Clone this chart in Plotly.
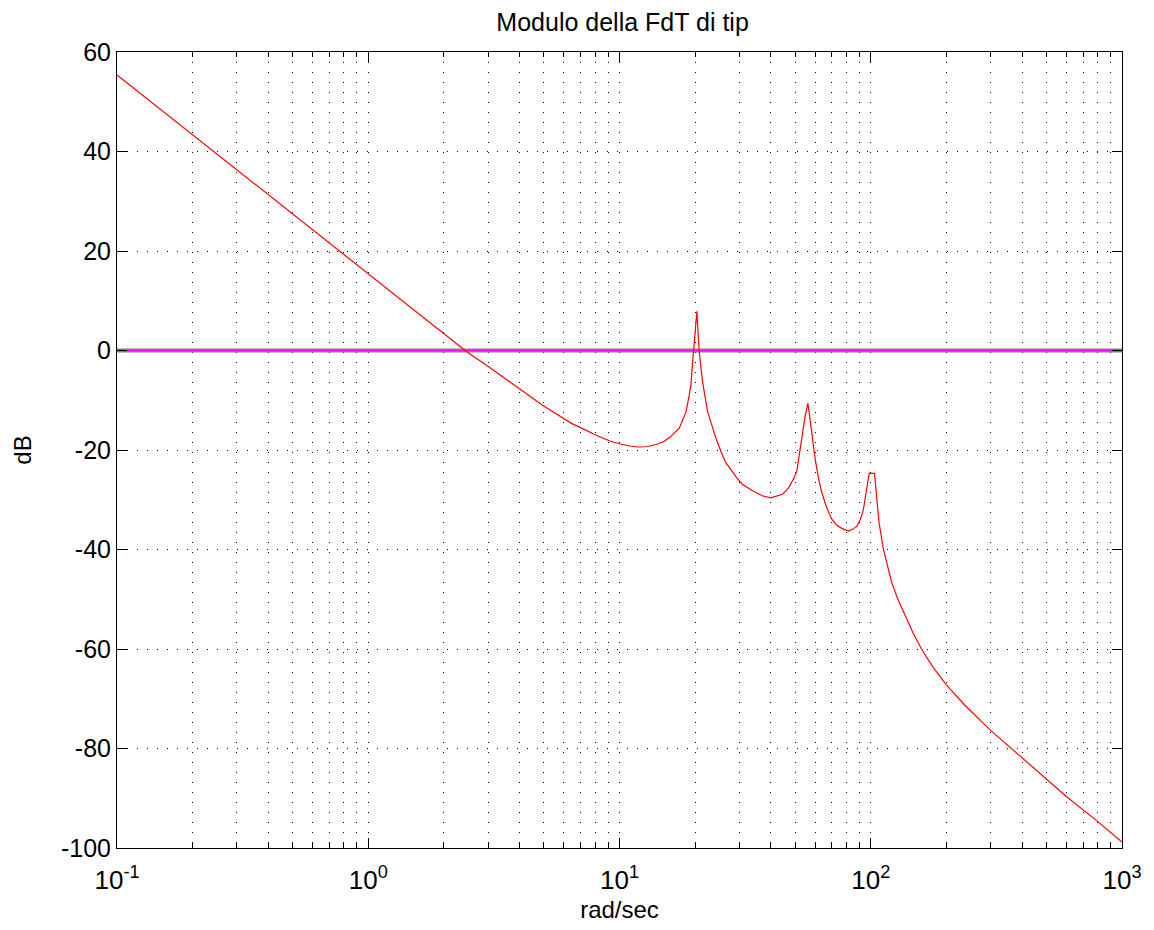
import plotly.graph_objects as go

# Frequency (rad/sec) and magnitude (dB)
freq = [0.1, 1.0, 1.918, 2.458, 2.995, 3.47, 3.978, 4.43, 4.939, 5.47, 5.991,
        6.46, 6.998, 7.64, 8.11, 9.16, 10.07, 11.0, 11.8, 12.8, 14.0, 14.9,
        15.81, 17.3, 18.41, 18.97, 19.28, 19.41, 19.72, 20.0, 20.32, 20.75,
        21.38, 22.39, 24.15, 25.3, 26.46, 29.11, 30.8, 33.88, 37.0, 39.99,
        44.57, 47.1, 49.55, 50.8, 51.58, 52.8, 53.95, 54.8, 56.23, 60.12, 61.9,
        63.9, 66.8, 69.98, 73.1, 76.91, 81.66, 85.1, 88.1, 91.0, 93.54, 95.5,
        98.6, 103.5, 107.9, 112.2, 121.1, 128.2, 136.8, 147.1, 159.2, 176.6,
        200.0, 235.8, 299.2, 359.0, 395.4, 488.7, 605.3, 792.3, 1000.0]
mag_db = [55.4, 15.4, 4.2, -0.2, -3.15, -5.5, -7.6, -9.4, -11.0, -12.4, -13.7,
          -14.7, -15.5, -16.5, -17.1, -18.2, -18.8, -19.2, -19.4, -19.35, -18.9, -18.4,
          -17.5, -15.6, -12.3, -8.8, -6.5, -4.2, -0.2, 4.5, 7.9, -0.1,
          -6.1, -12.2, -17.5, -20.2, -22.5, -25.4, -26.9, -28.2, -29.2, -29.6,
          -28.9, -27.6, -25.6, -24.2, -21.9, -19.2, -15.2, -13.2, -10.6, -21.9, -25.6,
          -28.6, -31.6, -33.9, -35.1, -35.8, -36.3, -35.9, -35.3, -33.9, -31.9, -29.2,
          -24.7, -24.7, -34.6, -39.9, -46.6, -50.0, -53.3, -56.7, -60.0, -63.6,
          -67.2, -71.2, -76.3, -79.8, -81.7, -85.8, -89.8, -94.5, -98.8]

zero_x = [0.1, 1000.0]
zero_y = [0.0, 0.0]

x_tickvals = [0.1, 1, 10, 100, 1000]
x_ticktext = ["10<sup>-1</sup>", "10<sup>0</sup>", "10<sup>1</sup>", "10<sup>2</sup>", "10<sup>3</sup>"]
y_tickvals = [-100, -80, -60, -40, -20, 0, 20, 40, 60]
y_ticktext = ["-100", "-80", "-60", "-40", "-20", "0", "20", "40", "60"]

FONT = "Liberation Sans, Arial, sans-serif"

fig = go.Figure()
fig.add_trace(go.Scatter(x=zero_x, y=zero_y, mode="lines",
                         line=dict(color="#808080", width=4), hoverinfo="skip"))
fig.add_trace(go.Scatter(x=zero_x, y=zero_y, mode="lines",
                         line=dict(color="#ff00ff", width=1), hoverinfo="skip"))
fig.add_trace(go.Scatter(x=freq, y=mag_db, mode="lines",
                         line=dict(color="#ff0000", width=1.2, shape="linear")))

grid_dash = "1px,9px"

fig.update_layout(
    width=1154, height=930,
    margin=dict(l=116.5, r=25.5, t=52, b=80.7),
    paper_bgcolor="white", plot_bgcolor="white",
    showlegend=False,
    font=dict(family=FONT, color="black", size=24),
    title=dict(text="Modulo della FdT di tip", x=0.5395, xanchor="center",
               y=0.976, yanchor="middle", font=dict(size=25, family=FONT)),
    xaxis=dict(
        type="log", range=[-1, 3],
        tickvals=x_tickvals, ticktext=x_ticktext,
        ticks="inside", ticklen=10, tickwidth=1, tickcolor="black",
        showline=True, linecolor="black", linewidth=1, mirror="ticks",
        showgrid=True, gridcolor="black", gridwidth=1, griddash=grid_dash,
        zeroline=False,
        tickfont=dict(size=26, family=FONT),
        ticklabelstandoff=9,
        title=dict(text="rad/sec", font=dict(size=24, family=FONT), standoff=6),
        minor=dict(dtick="D1", ticks="inside", ticklen=5, tickcolor="black",
                   showgrid=True, gridcolor="black", gridwidth=1, griddash=grid_dash),
    ),
    yaxis=dict(
        range=[-100, 60],
        tickvals=y_tickvals, ticktext=y_ticktext,
        ticks="inside", ticklen=10, tickwidth=1, tickcolor="black",
        showline=True, linecolor="black", linewidth=1, mirror="ticks",
        showgrid=True, gridcolor="black", gridwidth=1, griddash=grid_dash,
        zeroline=False,
        tickfont=dict(size=25, family=FONT),
        title=dict(text="dB", font=dict(size=24, family=FONT), standoff=22),
    ),
)

fig.write_html("out.html")
